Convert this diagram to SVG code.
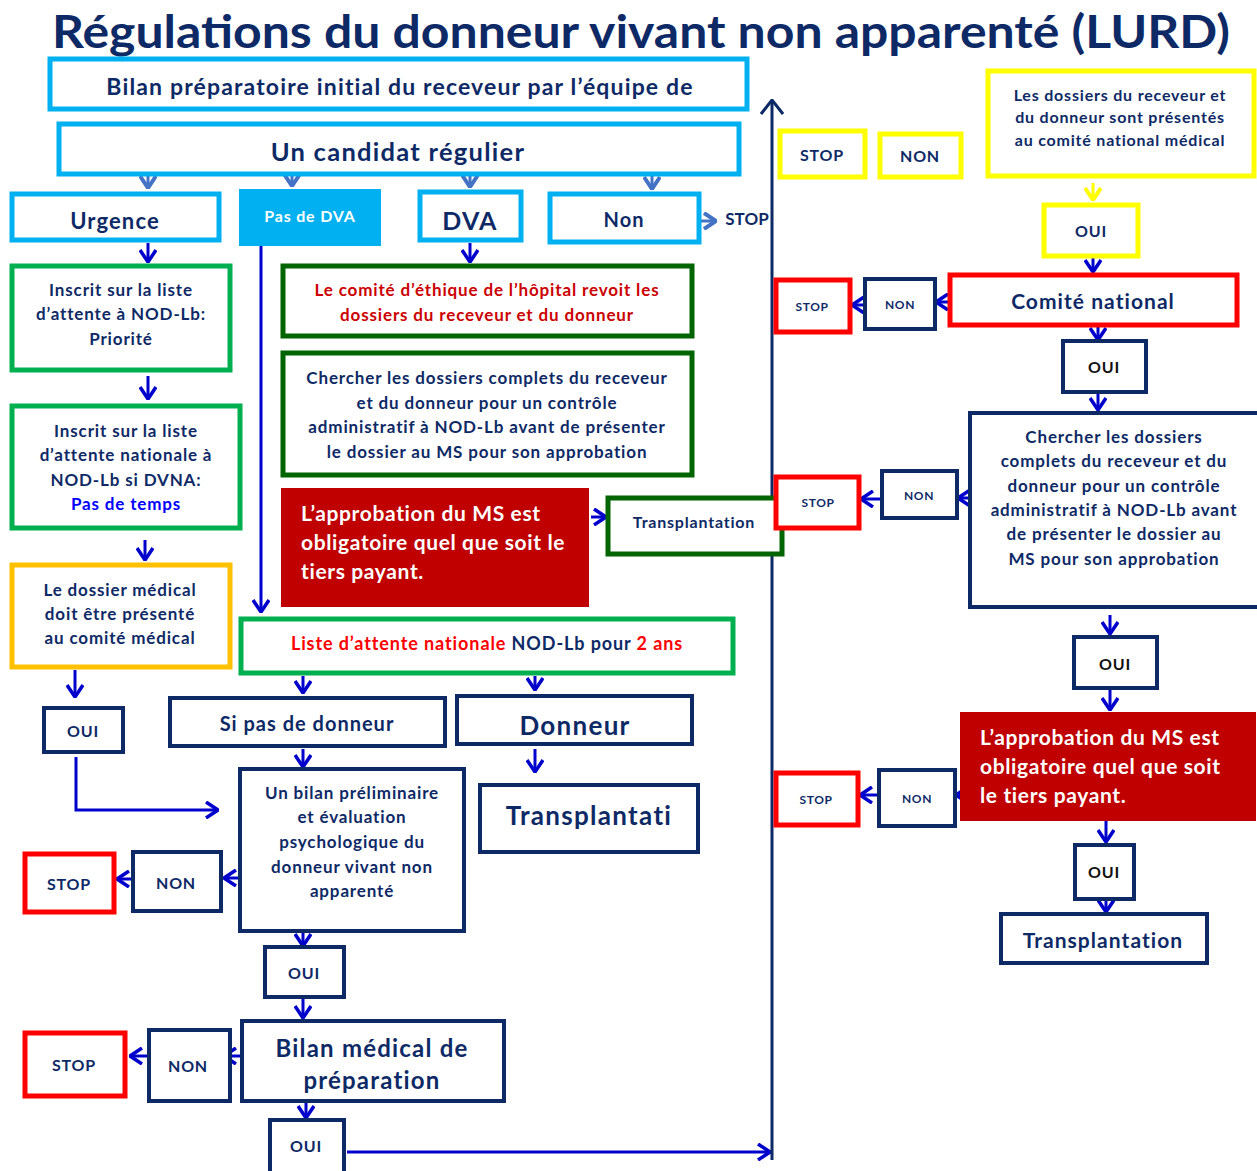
<svg xmlns="http://www.w3.org/2000/svg" width="1257" height="1171" viewBox="0 0 1257 1171">
<style>
text{font-family:Lato,"Open Sans","Liberation Sans",sans-serif;font-weight:bold;fill:#0E2A66;text-anchor:middle;letter-spacing:0.05em}
.lb{fill:#fff;stroke:#00B0F0;stroke-width:5}
.gr{fill:#fff;stroke:#00B050;stroke-width:5}
.dg{fill:#fff;stroke:#006400;stroke-width:5}
.nv{fill:#fff;stroke:#0E2A66;stroke-width:4}
.rd{fill:#fff;stroke:#FF0000;stroke-width:5}
.yl{fill:#fff;stroke:#FFFF00;stroke-width:5}
.or{fill:#fff;stroke:#FFC000;stroke-width:5}
.dr{fill:#C00000}
.wt{fill:#fff;text-anchor:start;letter-spacing:0.03em}
.c{fill:none;stroke:#0000CC;stroke-width:3;marker-end:url(#ab)}
.cl{fill:none;stroke:#4472C4;stroke-width:3;marker-end:url(#al)}
.cy{fill:none;stroke:#FFFF00;stroke-width:3;marker-end:url(#ay)}
</style>
<defs>
<marker id="ab" viewBox="0 0 14 18" refX="13" refY="9" markerWidth="14" markerHeight="18" markerUnits="userSpaceOnUse" orient="auto"><path d="M1,1 L13,9 L1,17" fill="none" stroke="#0000CC" stroke-width="3.5"/></marker>
<marker id="al" viewBox="0 0 14 18" refX="13" refY="9" markerWidth="14" markerHeight="18" markerUnits="userSpaceOnUse" orient="auto"><path d="M1,1 L13,9 L1,17" fill="none" stroke="#4472C4" stroke-width="4"/></marker>
<marker id="ay" viewBox="0 0 14 18" refX="13" refY="9" markerWidth="14" markerHeight="18" markerUnits="userSpaceOnUse" orient="auto"><path d="M1,1 L13,9 L1,17" fill="none" stroke="#FFFF00" stroke-width="4"/></marker>
<marker id="an" viewBox="0 0 16 24" refX="15" refY="12" markerWidth="16" markerHeight="24" markerUnits="userSpaceOnUse" orient="auto"><path d="M1,1 L15,12 L1,23" fill="none" stroke="#0E2A66" stroke-width="3"/></marker>
</defs>
<rect width="1257" height="1171" fill="#fff"/>
<text id="title" x="641" y="48" font-size="46" textLength="1178" lengthAdjust="spacingAndGlyphs" style="letter-spacing:0">Régulations du donneur vivant non apparenté (LURD)</text>

<g id="connectors">
<path class="cl" d="M148,170 V188"/>
<path class="cl" d="M292,170 V186"/>
<path class="cl" d="M470,170 V187"/>
<path class="cl" d="M652,170 V189"/>
<path class="cl" d="M701,221 H716"/>
<path class="c" d="M148,243 V262"/>
<path class="c" d="M148,376 V399"/>
<path class="c" d="M145,540 V560"/>
<path class="c" d="M75,670 V697"/>
<path class="c" d="M76,757 V810 H218"/>
<path class="c" d="M261,240 V612"/>
<path class="c" d="M470,243 V262"/>
<path class="c" d="M591,517 H606"/>
<path class="c" d="M303,676 V693"/>
<path class="c" d="M535,676 V690"/>
<path class="c" d="M303,749 V767"/>
<path class="c" d="M535,749 V772"/>
<path class="c" d="M240,878 H224"/>
<path class="c" d="M131,879 H117"/>
<path class="c" d="M303,930 V946"/>
<path class="c" d="M303,999 V1018"/>
<path class="c" d="M241,1056 H224"/>
<path class="c" d="M147,1056 H130"/>
<path class="c" d="M306,1101 V1118"/>
<path class="c" d="M347,1152 H770"/>
<path fill="none" stroke="#0E2A66" stroke-width="3" marker-end="url(#an)" d="M772,1160 V100"/>
<path class="cy" d="M1093,183 V200"/>
<path class="c" d="M1093,257 V272"/>
<path class="c" d="M948,302 H936"/>
<path class="c" d="M864,305 H852"/>
<path class="c" d="M1098,326 V340"/>
<path class="c" d="M1098,392 V410"/>
<path class="c" d="M969,498 H958"/>
<path class="c" d="M881,499 H861"/>
<path class="c" d="M1110,615 V634"/>
<path class="c" d="M1110,688 V710"/>
<path class="c" d="M960,795 H956"/>
<path class="c" d="M878,795 H860"/>
<path class="c" d="M1106,821 V842"/>
<path class="c" d="M1106,893 V912"/>
</g>

<g id="bilan-initial"><rect class="lb" x="50" y="59" width="697" height="50"/><text x="400" y="95" font-size="23">Bilan préparatoire initial du receveur par l’équipe de</text></g>
<g id="candidat"><rect class="lb" x="59" y="124" width="680" height="50"/><text x="398" y="161" font-size="25.5">Un candidat régulier</text></g>
<g id="urgence"><rect class="lb" x="12" y="194" width="207" height="46"/><text x="115" y="229" font-size="22">Urgence</text></g>
<g id="pas-dva"><rect x="239" y="189" width="142" height="57" fill="#00B0F0"/><text x="310" y="222" font-size="16" style="fill:#fff">Pas de DVA</text></g>
<g id="dva"><rect class="lb" x="420" y="192" width="101" height="48"/><text x="470" y="230" font-size="25">DVA</text></g>
<g id="non-top"><rect class="lb" x="550" y="194" width="149" height="48"/><text x="624" y="227" font-size="20">Non</text></g>
<g id="stop-top"><text x="747" y="225" font-size="17" style="letter-spacing:0">STOP</text></g>

<g id="inscrit-priorite"><rect class="gr" x="12" y="266" width="218" height="104"/><text font-size="17"><tspan x="121" y="296">Inscrit sur la liste</tspan><tspan x="121" y="320">d’attente à NOD-Lb:</tspan><tspan x="121" y="345">Priorité</tspan></text></g>
<g id="inscrit-dvna"><rect class="gr" x="12" y="406" width="228" height="122"/><text font-size="17"><tspan x="126" y="437">Inscrit sur la liste</tspan><tspan x="126" y="461">d’attente nationale à</tspan><tspan x="126" y="486">NOD-Lb si DVNA:</tspan><tspan x="126" y="510" style="fill:#0000FF">Pas de temps</tspan></text></g>
<g id="dossier-medical"><rect class="or" x="12" y="565" width="218" height="102"/><text font-size="17"><tspan x="120" y="596">Le dossier médical</tspan><tspan x="120" y="620">doit être présenté</tspan><tspan x="120" y="644">au comité médical</tspan></text></g>
<g id="oui-1"><rect class="nv" x="44" y="708" width="79" height="44"/><text x="83" y="737" font-size="16">OUI</text></g>

<g id="ethique"><rect class="dg" x="283" y="266" width="409" height="70"/><text font-size="17" style="fill:#CC0000"><tspan x="487" y="296">Le comité d’éthique de l’hôpital revoit les</tspan><tspan x="487" y="321">dossiers du receveur et du donneur</tspan></text></g>
<g id="chercher-1"><rect class="dg" x="283" y="353" width="409" height="122"/><text font-size="17"><tspan x="487" y="384">Chercher les dossiers complets du receveur</tspan><tspan x="487" y="409">et du donneur pour un contrôle</tspan><tspan x="487" y="433">administratif à NOD-Lb avant de présenter</tspan><tspan x="487" y="458">le dossier au MS pour son approbation</tspan></text></g>
<g id="approbation-1"><rect class="dr" x="281" y="488" width="308" height="119"/><text font-size="21" class="wt"><tspan x="301" y="521">L’approbation du MS est</tspan><tspan x="301" y="550">obligatoire quel que soit le</tspan><tspan x="301" y="579">tiers payant.</tspan></text></g>
<g id="transplantation-1"><rect class="dg" x="608" y="498" width="174" height="56"/><text x="694" y="528" font-size="16">Transplantation</text></g>
<g id="liste-attente"><rect class="gr" x="241" y="619" width="492" height="54"/><text x="487" y="650" font-size="18"><tspan style="fill:#FF0000">Liste d’attente nationale</tspan> NOD-Lb pour <tspan style="fill:#FF0000">2 ans</tspan></text></g>

<g id="si-pas-donneur"><rect class="nv" x="170" y="698" width="275" height="48"/><text x="307" y="731" font-size="20">Si pas de donneur</text></g>
<g id="donneur"><rect class="nv" x="457" y="696" width="235" height="48"/><text x="575" y="735" font-size="26">Donneur</text></g>
<g id="transplantati"><rect class="nv" x="480" y="785" width="218" height="67"/><text x="589" y="825" font-size="26">Transplantati</text></g>
<g id="bilan-prelim"><rect class="nv" x="240" y="769" width="224" height="162"/><text font-size="17"><tspan x="352" y="799">Un bilan préliminaire</tspan><tspan x="352" y="823">et évaluation</tspan><tspan x="352" y="848">psychologique du</tspan><tspan x="352" y="873">donneur vivant non</tspan><tspan x="352" y="897">apparenté</tspan></text></g>
<g id="non-2"><rect class="nv" x="133" y="852" width="88" height="59"/><text x="176" y="889" font-size="16">NON</text></g>
<g id="stop-2"><rect class="rd" x="25" y="854" width="89" height="58"/><text x="69" y="890" font-size="16">STOP</text></g>
<g id="oui-2"><rect class="nv" x="265" y="947" width="79" height="50"/><text x="304" y="979" font-size="16">OUI</text></g>
<g id="bilan-medical"><rect class="nv" x="242" y="1021" width="262" height="80"/><text font-size="24"><tspan x="372" y="1057">Bilan médical de</tspan><tspan x="372" y="1089">préparation</tspan></text></g>
<g id="non-3"><rect class="nv" x="149" y="1030" width="81" height="71"/><text x="188" y="1072" font-size="16">NON</text></g>
<g id="stop-3"><rect class="rd" x="25" y="1033" width="100" height="63"/><text x="74" y="1071" font-size="16">STOP</text></g>
<g id="oui-3"><rect class="nv" x="270" y="1120" width="74" height="54"/><text x="306" y="1152" font-size="16">OUI</text></g>

<g id="stop-yellow"><rect class="yl" x="780" y="131" width="85" height="46"/><text x="822" y="161" font-size="16">STOP</text></g>
<g id="non-yellow"><rect class="yl" x="880" y="134" width="81" height="43"/><text x="920" y="162" font-size="16">NON</text></g>
<g id="dossiers-presentes"><rect class="yl" x="988" y="71" width="266" height="105"/><text font-size="16"><tspan x="1120" y="101">Les dossiers du receveur et</tspan><tspan x="1120" y="123">du donneur sont présentés</tspan><tspan x="1120" y="146">au comité national médical</tspan></text></g>
<g id="oui-yellow"><rect class="yl" x="1044" y="205" width="94" height="51"/><text x="1091" y="237" font-size="16">OUI</text></g>
<g id="comite-national"><rect class="rd" x="950" y="275" width="287" height="50"/><text x="1093" y="309" font-size="21">Comité national</text></g>
<g id="non-r1"><rect class="nv" x="865" y="279" width="70" height="50"/><text x="900" y="309" font-size="12">NON</text></g>
<g id="stop-r1"><rect class="rd" x="776" y="280" width="74" height="52"/><text x="812" y="311" font-size="12">STOP</text></g>
<g id="oui-r1"><rect class="nv" x="1063" y="341" width="83" height="51"/><text x="1104" y="373" font-size="16" style="fill:#111">OUI</text></g>
<g id="chercher-2"><rect class="nv" x="970" y="413" width="290" height="194"/><text font-size="17"><tspan x="1114" y="443">Chercher les dossiers</tspan><tspan x="1114" y="467">complets du receveur et du</tspan><tspan x="1114" y="492">donneur pour un contrôle</tspan><tspan x="1114" y="516">administratif à NOD-Lb avant</tspan><tspan x="1114" y="540">de présenter le dossier au</tspan><tspan x="1114" y="565">MS pour son approbation</tspan></text></g>
<g id="non-r2"><rect class="nv" x="882" y="471" width="75" height="47"/><text x="919" y="500" font-size="12">NON</text></g>
<g id="stop-r2"><rect class="rd" x="776" y="477" width="83" height="51"/><text x="818" y="507" font-size="12">STOP</text></g>
<g id="oui-r2"><rect class="nv" x="1074" y="637" width="83" height="51"/><text x="1115" y="670" font-size="16" style="fill:#111">OUI</text></g>
<g id="approbation-2"><rect class="dr" x="960" y="712" width="296" height="109"/><text font-size="21" class="wt"><tspan x="980" y="745">L’approbation du MS est</tspan><tspan x="980" y="774">obligatoire quel que soit</tspan><tspan x="980" y="803">le tiers payant.</tspan></text></g>
<g id="non-r3"><rect class="nv" x="879" y="770" width="76" height="56"/><text x="917" y="803" font-size="12">NON</text></g>
<g id="stop-r3"><rect class="rd" x="776" y="773" width="82" height="52"/><text x="816" y="804" font-size="12">STOP</text></g>
<g id="oui-r3"><rect class="nv" x="1075" y="845" width="59" height="54"/><text x="1104" y="878" font-size="16" style="fill:#111">OUI</text></g>
<g id="transplantation-2"><rect class="nv" x="1001" y="914" width="206" height="49"/><text x="1103" y="948" font-size="21">Transplantation</text></g>
</svg>
